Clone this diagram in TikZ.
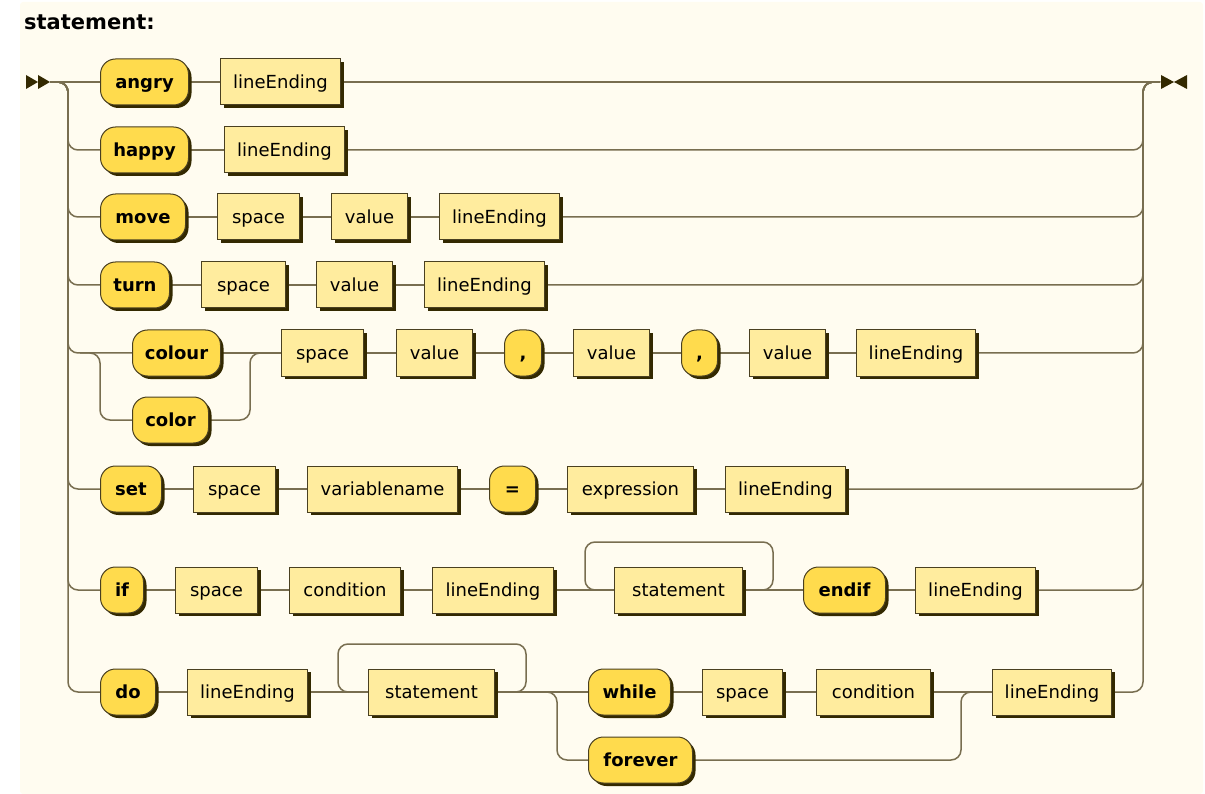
\documentclass[tikz,border=0pt]{standalone}
\usepackage{fontspec}
\setmainfont{DejaVu Sans}
\usetikzlibrary{shadows,calc}
\definecolor{bgc}{HTML}{FFFCF0}
\definecolor{tfill}{HTML}{FFDB4D}
\definecolor{nfill}{HTML}{FFEC9E}
\definecolor{bord}{HTML}{4A4020}
\definecolor{shd}{HTML}{332900}
\definecolor{lnc}{RGB}{120,110,80}
\pgfdeclarelayer{back}
\pgfdeclarelayer{rails}
\pgfsetlayers{back,rails,main}
\tikzset{
 box/.style={draw=bord, line width=1pt, minimum height=46, inner sep=0, anchor=west,
   text height=15pt, text depth=2pt,
   font=\fontsize{18}{20}\selectfont,
   general shadow={fill=shd, shadow xshift=3pt, shadow yshift=-3pt}},
 term/.style={box, fill=tfill, rounded corners=15pt, font=\fontsize{18}{20}\selectfont\bfseries},
 nterm/.style={box, fill=nfill},
 rail/.style={draw=lnc, line width=1.5pt, rounded corners=10pt},
}
\begin{document}
\begin{tikzpicture}[x=1pt,y=-1pt]
\useasboundingbox (0,0) rectangle (1205,794);
\begin{pgfonlayer}{back}
\fill[bgc, rounded corners=3pt] (20,2) rectangle (1203,794);
\end{pgfonlayer}
\node[anchor=base west, inner sep=0, font=\fontsize{21}{23}\selectfont\bfseries] (title) at (24,30) {statement:};

\coordinate (S) at (50,82);
\coordinate (L) at (68,82);
\coordinate (R) at (1143,82);
\coordinate (E) at (1160,82);

% row 1
\node[term, minimum width=88] (angry) at (100,82) {angry};
\node[nterm, minimum width=120] (le1) at (220,82) {lineEnding};
% row 2
\node[term, minimum width=88] (happy) at (100,150) {happy};
\node[nterm, minimum width=120] (le2) at (224,150) {lineEnding};
% row 3
\node[term, minimum width=85] (move) at (100,217) {move};
\node[nterm, minimum width=82] (sp3) at (217,217) {space};
\node[nterm, minimum width=76] (va3) at (331,217) {value};
\node[nterm, minimum width=120] (le3) at (439,217) {lineEnding};
% row 4
\node[term, minimum width=69] (turn) at (100,285) {turn};
\node[nterm, minimum width=84] (sp4) at (201,285) {space};
\node[nterm, minimum width=76] (va4) at (316,285) {value};
\node[nterm, minimum width=120] (le4) at (424,285) {lineEnding};
% row 5
\node[term, minimum width=88] (colour) at (132,353) {colour};
\node[term, minimum width=76] (color) at (132,420) {color};
\node[nterm, minimum width=82] (sp5) at (281,353) {space};
\node[nterm, minimum width=76] (va5a) at (396,353) {value};
\node[term, minimum width=37] (cm5a) at (504,353) {,};
\node[nterm, minimum width=76] (va5b) at (573,353) {value};
\node[term, minimum width=36] (cm5b) at (681,353) {,};
\node[nterm, minimum width=76] (va5c) at (749,353) {value};
\node[nterm, minimum width=119] (le5) at (856,353) {lineEnding};
% row 6
\node[term, minimum width=61] (set) at (100,489) {set};
\node[nterm, minimum width=82] (sp6) at (193,489) {space};
\node[nterm, minimum width=150] (vn6) at (307,489) {variablename};
\node[term, minimum width=46] (eq6) at (489,489) {=};
\node[nterm, minimum width=126] (ex6) at (567,489) {expression};
\node[nterm, minimum width=120] (le6) at (725,489) {lineEnding};
% row 7
\node[term, minimum width=43] (tif) at (100,590) {if};
\node[nterm, minimum width=82] (sp7) at (175,590) {space};
\node[nterm, minimum width=111] (co7) at (289,590) {condition};
\node[nterm, minimum width=121] (le7) at (432,590) {lineEnding};
\node[nterm, minimum width=128] (st7) at (614,590) {statement};
\node[term, minimum width=82] (endif) at (803,590) {endif};
\node[nterm, minimum width=120] (le7b) at (915,590) {lineEnding};
% row 8
\node[term, minimum width=55] (tdo) at (100,692) {do};
\node[nterm, minimum width=120] (le8) at (187,692) {lineEnding};
\node[nterm, minimum width=126] (st8) at (368,692) {statement};
\node[term, minimum width=82] (while) at (588,692) {while};
\node[nterm, minimum width=80] (sp8) at (702,692) {space};
\node[nterm, minimum width=114] (co8) at (816,692) {condition};
\node[nterm, minimum width=119] (le8b) at (992,692) {lineEnding};
\node[term, minimum width=104] (forever) at (588,760) {forever};

\coordinate (B5) at (100,353);
\coordinate (J5) at (250,353);
\coordinate (c5l) at (80,353);
\coordinate (lp7l) at (585,542);
\coordinate (lp7r) at (773,542);
\coordinate (lp8l) at (338,644);
\coordinate (lp8r) at (526,644);
\coordinate (J8a) at (557,692);
\coordinate (J8b) at (961,692);

\begin{pgfonlayer}{rails}
% entry
\draw[rail] (S) -- (angry.west);
\foreach \n in {happy,move,turn,colour,set,tif,tdo}
  \draw[rail] (S) -| (L |- \n.west) -- (\n.west);
% exits
\draw[rail] (le1.east) -- (E);
\foreach \n in {le2,le3,le4,le5,le6,le7b,le8b}
  \draw[rail] (\n.east) -| (R) -- (E);
% rows
\draw[rail] (angry) -- (le1);
\draw[rail] (happy) -- (le2);
\draw[rail] (move) -- (sp3); \draw[rail] (sp3) -- (va3); \draw[rail] (va3) -- (le3);
\draw[rail] (turn) -- (sp4); \draw[rail] (sp4) -- (va4); \draw[rail] (va4) -- (le4);
\draw[rail] (c5l) -| (B5 |- color.west) -- (color.west);
\draw[rail] (colour) -- (sp5);
\draw[rail] (color.east) -| (J5) -- (sp5.west);
\draw[rail] (sp5) -- (va5a); \draw[rail] (va5a) -- (cm5a); \draw[rail] (cm5a) -- (va5b);
\draw[rail] (va5b) -- (cm5b); \draw[rail] (cm5b) -- (va5c); \draw[rail] (va5c) -- (le5);
\draw[rail] (set) -- (sp6); \draw[rail] (sp6) -- (vn6); \draw[rail] (vn6) -- (eq6);
\draw[rail] (eq6) -- (ex6); \draw[rail] (ex6) -- (le6);
\draw[rail] (tif) -- (sp7); \draw[rail] (sp7) -- (co7); \draw[rail] (co7) -- (le7);
\draw[rail] (le7) -- (st7); \draw[rail] (st7) -- (endif); \draw[rail] (endif) -- (le7b);
\draw[rail] ($(st7.east)+(8,0)$) -| (lp7r) -| (lp7l |- st7.west) -- ($(st7.west)+(-8,0)$);
\draw[rail] (tdo) -- (le8); \draw[rail] (le8) -- (st8);
\draw[rail] ($(st8.east)+(8,0)$) -| (lp8r) -| (lp8l |- st8.west) -- ($(st8.west)+(-8,0)$);
\draw[rail] (st8) -- (while);
\draw[rail] (st8.east) -| (J8a |- forever.west) -- (forever.west);
\draw[rail] (while) -- (sp8); \draw[rail] (sp8) -- (co8); \draw[rail] (co8) -- (le8b);
\draw[rail] (forever.east) -| (J8b) -- (le8b.west);
\end{pgfonlayer}

% start and end markers
\fill[shd] (26,75) -- (38,82) -- (26,89) -- cycle;
\fill[shd] (38,75) -- (50,82) -- (38,89) -- cycle;
\fill[shd] (1161,75) -- (1174,82) -- (1161,89) -- cycle;
\fill[shd] (1187,75) -- (1174,82) -- (1187,89) -- cycle;
\end{tikzpicture}
\end{document}
